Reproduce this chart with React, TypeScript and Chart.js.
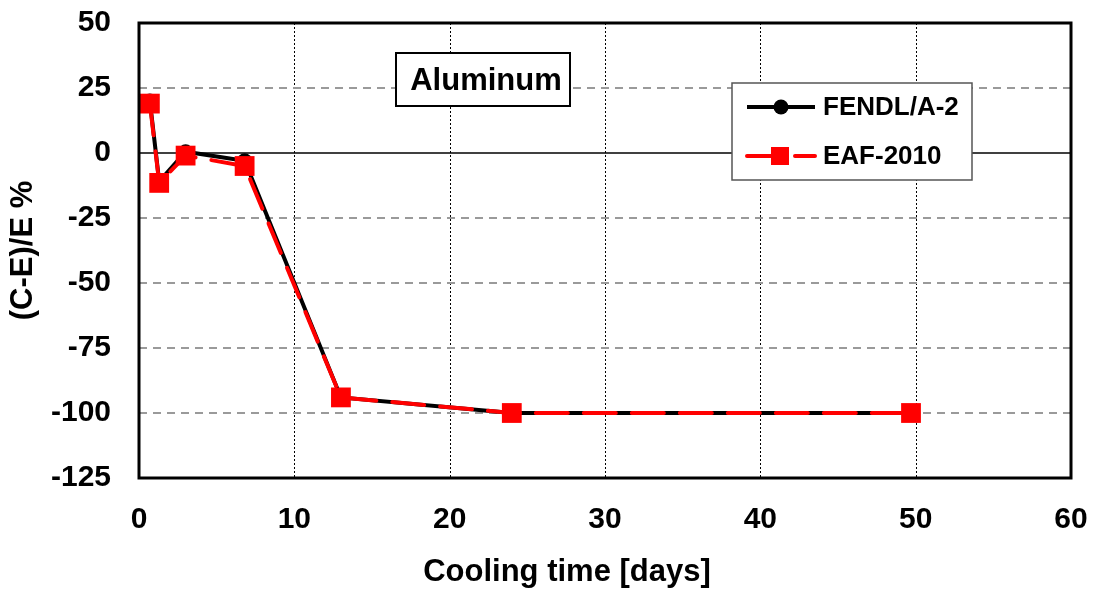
import { useEffect, useRef } from 'react';
import { Chart, registerables } from 'chart.js';

Chart.register(...registerables);

// Cooling times (days) and relative deviations (C-E)/E in percent
const coolingDays = [0.7, 1.3, 3, 6.8, 13, 24, 49.7];
const fendlValues = [20, -11, 0.5, -3, -94, -100, -100];
const eafValues = [19, -11.5, -1, -5, -94, -100, -100];

const seriesNames = ['FENDL/A-2', 'EAF-2010'];
const xTickValues = [0, 10, 20, 30, 40, 50, 60];
const yTickValues = [50, 25, 0, -25, -50, -75, -100, -125];
const materialLabel = 'Aluminum';
const xTitle = 'Cooling time [days]';
const yTitle = '(C-E)/E %';

const FONT = "'Liberation Sans', Arial, sans-serif";

// Grid lines, zero line and plot frame
const framePlugin = {
  id: 'frameAndGrid',
  beforeDatasetsDraw(chart: any) {
    const { ctx, chartArea, scales } = chart;
    const { left, right, top, bottom } = chartArea;
    const xs = scales.x;
    const ys = scales.y;
    ctx.save();
    xs.ticks.forEach((t: any) => {
      if (t.value <= xs.min || t.value >= xs.max) return;
      const px = Math.round(xs.getPixelForValue(t.value)) + 0.5;
      ctx.beginPath();
      ctx.setLineDash([2, 2]);
      ctx.strokeStyle = '#000';
      ctx.lineWidth = 1;
      ctx.moveTo(px, top);
      ctx.lineTo(px, bottom);
      ctx.stroke();
    });
    ys.ticks.forEach((t: any) => {
      if (t.value <= ys.min || t.value >= ys.max) return;
      const py = Math.round(ys.getPixelForValue(t.value));
      ctx.beginPath();
      if (t.value === 0) {
        ctx.setLineDash([]);
        ctx.strokeStyle = '#000';
        ctx.lineWidth = 1.5;
      } else {
        ctx.setLineDash([8, 6]);
        ctx.strokeStyle = '#9a9a9a';
        ctx.lineWidth = 2;
      }
      ctx.moveTo(left, py);
      ctx.lineTo(right, py);
      ctx.stroke();
    });
    ctx.restore();
  },
  afterDatasetsDraw(chart: any) {
    const { ctx, chartArea } = chart;
    const { left, right, top, bottom } = chartArea;
    ctx.save();
    ctx.setLineDash([]);
    ctx.strokeStyle = '#000';
    ctx.lineWidth = 3;
    ctx.strokeRect(left, top, right - left, bottom - top);
    ctx.restore();
  },
};

// Material label box, legend box and x-axis title
const annotationPlugin = {
  id: 'boxes',
  afterDraw(chart: any) {
    const { ctx } = chart;
    ctx.save();

    // Material label
    ctx.fillStyle = '#fff';
    ctx.fillRect(396, 53, 174, 53);
    ctx.strokeStyle = '#000';
    ctx.lineWidth = 2;
    ctx.strokeRect(396, 53, 174, 53);
    ctx.fillStyle = '#000';
    ctx.font = `bold 31px ${FONT}`;
    ctx.textAlign = 'center';
    ctx.textBaseline = 'middle';
    ctx.fillText(materialLabel, 486, 81);

    // X-axis title
    ctx.font = `bold 31px ${FONT}`;
    ctx.fillText(xTitle, 567, 572);

    // Legend
    ctx.fillStyle = '#fff';
    ctx.fillRect(732, 83, 240, 97);
    ctx.strokeStyle = '#555';
    ctx.lineWidth = 1.5;
    ctx.strokeRect(732, 83, 240, 97);

    const rows = [107, 156];
    chart.data.datasets.forEach((ds: any, i: number) => {
      const y = rows[i];
      ctx.beginPath();
      ctx.setLineDash(ds.borderDash || []);
      ctx.lineCap = ds.borderCapStyle || 'butt';
      ctx.strokeStyle = ds.borderColor;
      ctx.lineWidth = ds.borderWidth;
      ctx.moveTo(747, y);
      ctx.lineTo(815, y);
      ctx.stroke();
      ctx.setLineDash([]);
      ctx.fillStyle = ds.pointBackgroundColor;
      if (ds.pointStyle === 'rect') {
        const s = 9;
        ctx.fillRect(780 - s, y - s, 2 * s, 2 * s);
      } else {
        ctx.beginPath();
        ctx.arc(781, y, ds.pointRadius, 0, Math.PI * 2);
        ctx.fill();
      }
      ctx.fillStyle = '#000';
      ctx.font = `bold 26px ${FONT}`;
      ctx.textAlign = 'left';
      ctx.textBaseline = 'middle';
      ctx.fillText(ds.label, 823, y + 1);
    });
    ctx.restore();
  },
};

const noAutoPadding = (scale: any) => {
  scale.paddingTop = 0;
  scale.paddingBottom = 0;
  scale.paddingLeft = 0;
  scale.paddingRight = 0;
};

export default function App() {
  const canvasRef = useRef<HTMLCanvasElement>(null);

  useEffect(() => {
    if (!canvasRef.current) return;
    const chart = new Chart(canvasRef.current, {
      type: 'scatter',
      data: {
        datasets: [
          {
            label: seriesNames[0],
            data: coolingDays.map((d, i) => ({ x: d, y: fendlValues[i] })),
            showLine: true,
            order: 2,
            borderColor: '#000',
            backgroundColor: '#000',
            borderWidth: 4,
            pointStyle: 'circle',
            pointRadius: 7.5,
            pointBackgroundColor: '#000',
            pointBorderColor: '#000',
            pointBorderWidth: 0,
          },
          {
            label: seriesNames[1],
            data: coolingDays.map((d, i) => ({ x: d, y: eafValues[i] })),
            showLine: true,
            order: 1,
            borderColor: '#ff0000',
            backgroundColor: '#ff0000',
            borderWidth: 4,
            borderDash: [32, 16],
            borderCapStyle: 'round',
            pointStyle: 'rect',
            pointRadius: 14,
            pointBackgroundColor: '#ff0000',
            pointBorderColor: '#ff0000',
            pointBorderWidth: 0,
          },
        ],
      },
      options: {
        responsive: false,
        animation: false,
        layout: { padding: { left: 0, top: 23, right: 23, bottom: 0 } },
        plugins: {
          legend: { display: false },
          tooltip: { enabled: false },
        },
        scales: {
          x: {
            type: 'linear',
            min: xTickValues[0],
            max: xTickValues[xTickValues.length - 1],
            afterBuildTicks: (scale: any) => {
              scale.ticks = xTickValues.map((v) => ({ value: v }));
            },
            grid: { display: false },
            border: { display: false },
            ticks: {
              color: '#000',
              padding: 16,
              maxRotation: 0,
              font: { family: FONT, size: 30, weight: 'bold' },
            },
            title: { display: false },
            afterFit: (scale: any) => {
              scale.height = 111;
              noAutoPadding(scale);
            },
          },
          y: {
            type: 'linear',
            min: yTickValues[yTickValues.length - 1],
            max: yTickValues[0],
            afterBuildTicks: (scale: any) => {
              scale.ticks = [...yTickValues].reverse().map((v) => ({ value: v }));
            },
            grid: { display: false },
            border: { display: false },
            ticks: {
              color: '#000',
              padding: 20,
              font: { family: FONT, size: 30, weight: 'bold' },
            },
            title: {
              display: true,
              text: yTitle,
              color: '#000',
              padding: 5,
              font: { family: FONT, size: 31, weight: 'bold' },
            },
            afterFit: (scale: any) => {
              scale.width = 139;
              noAutoPadding(scale);
            },
          },
        },
      },
      plugins: [framePlugin, annotationPlugin],
    } as any);
    return () => chart.destroy();
  }, []);

  return (
    <canvas
      ref={canvasRef}
      width={1094}
      height={589}
      style={{ position: 'absolute', left: 0, top: 0, display: 'block', background: '#fff' }}
    />
  );
}
